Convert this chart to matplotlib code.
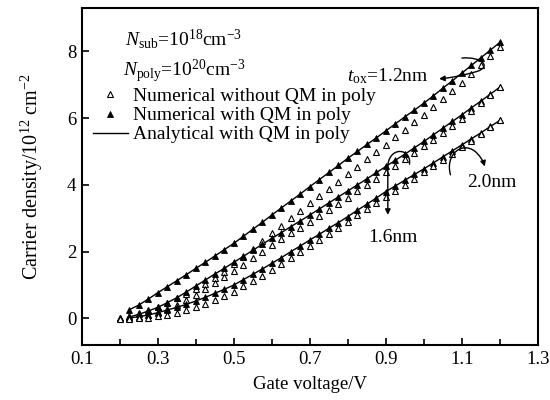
import matplotlib
matplotlib.use("Agg")
import matplotlib.pyplot as plt
from matplotlib.path import Path
from matplotlib.patches import FancyArrowPatch
from matplotlib.ticker import FixedLocator

plt.rcParams['font.family'] = ['Liberation Serif', 'DejaVu Serif']
plt.rcParams['mathtext.fontset'] = 'custom'
plt.rcParams['mathtext.rm'] = 'Liberation Serif'
plt.rcParams['mathtext.it'] = 'Liberation Serif:italic'

# Gate voltage grid (V)
voltage = [0.2, 0.225, 0.25, 0.275, 0.3, 0.325, 0.35, 0.375, 0.4, 0.425,
           0.45, 0.475, 0.5, 0.525, 0.55, 0.575, 0.6, 0.625, 0.65, 0.675,
           0.7, 0.725, 0.75, 0.775, 0.8, 0.825, 0.85, 0.875, 0.9, 0.925,
           0.95, 0.975, 1.0, 1.025, 1.05, 1.075, 1.1, 1.125, 1.15, 1.175, 1.2]
voltage_qm = voltage[1:]

# tox = 1.2 nm
t12_noqm = [0.02, 0.08, 0.15, 0.25, 0.35, 0.47, 0.6, 0.74, 0.88, 1.04,
            1.2, 1.4, 1.62, 1.85, 2.08, 2.32, 2.55, 2.78, 3.0, 3.23,
            3.45, 3.66, 3.88, 4.1, 4.32, 4.54, 4.76, 4.98, 5.2, 5.42,
            5.65, 5.87, 6.1, 6.33, 6.57, 6.81, 7.05, 7.31, 7.58, 7.85, 8.12]
t12_qm = [0.26, 0.4, 0.58, 0.77, 0.95, 1.13, 1.31, 1.5, 1.68, 1.87,
          2.06, 2.25, 2.46, 2.67, 2.88, 3.1, 3.31, 3.52, 3.73, 3.95,
          4.16, 4.37, 4.58, 4.8, 5.0, 5.21, 5.41, 5.62, 5.83, 6.04,
          6.24, 6.45, 6.67, 6.9, 7.12, 7.35, 7.58, 7.81, 8.04, 8.27]
t12_analytic = t12_qm

# tox = 1.6 nm
t16_noqm = [0.0, 0.02, 0.05, 0.1, 0.18, 0.28, 0.4, 0.54, 0.7, 0.87,
            1.05, 1.23, 1.42, 1.61, 1.8, 2.0, 2.2, 2.37, 2.55, 2.72,
            2.9, 3.08, 3.26, 3.44, 3.62, 3.81, 3.99, 4.18, 4.37, 4.56,
            4.76, 4.95, 5.15, 5.35, 5.56, 5.77, 5.98, 6.21, 6.45, 6.69, 6.93]
t16_qm = [0.04, 0.12, 0.22, 0.33, 0.47, 0.62, 0.79, 0.97, 1.15, 1.33,
          1.5, 1.68, 1.86, 2.04, 2.22, 2.4, 2.57, 2.75, 2.92, 3.1,
          3.28, 3.46, 3.64, 3.82, 4.0, 4.18, 4.37, 4.55, 4.74, 4.92,
          5.11, 5.3, 5.5, 5.7, 5.9, 6.1, 6.31, 6.51, 6.72, 6.93]
t16_analytic = t16_qm

# tox = 2.0 nm
t20_noqm = [-0.03, -0.02, 0.0, 0.02, 0.06, 0.11, 0.17, 0.24, 0.33, 0.43,
            0.54, 0.66, 0.8, 0.96, 1.12, 1.28, 1.45, 1.63, 1.81, 1.99,
            2.17, 2.35, 2.53, 2.72, 2.9, 3.09, 3.28, 3.46, 3.65, 3.83,
            4.01, 4.19, 4.37, 4.56, 4.74, 4.93, 5.12, 5.32, 5.52, 5.73, 5.93]
t20_qm = [0.01, 0.05, 0.1, 0.17, 0.25, 0.33, 0.42, 0.52, 0.63, 0.75,
          0.87, 1.0, 1.16, 1.32, 1.48, 1.65, 1.82, 2.0, 2.17, 2.35,
          2.52, 2.7, 2.87, 3.05, 3.24, 3.42, 3.61, 3.8, 3.97, 4.14,
          4.31, 4.48, 4.66, 4.84, 5.02, 5.2, 5.38, 5.56, 5.75, 5.93]
t20_analytic = t20_qm

x_major = [0.1, 0.3, 0.5, 0.7, 0.9, 1.1, 1.3]
x_minor = [0.2, 0.4, 0.6, 0.8, 1.0, 1.2]
y_ticks = [0, 2, 4, 6, 8]

legend_labels = ["Numerical without QM in poly",
                 "Numerical with QM in poly",
                 "Analytical with QM in poly"]

fig = plt.figure(figsize=(5.5, 4), dpi=100)
ax = fig.add_axes([0.149, 0.1375, 0.829, 0.8425])

ms = 4.2
h_open = None
h_fill = None
h_line = None
for noqm, qm, an in [(t12_noqm, t12_qm, t12_analytic),
                     (t16_noqm, t16_qm, t16_analytic),
                     (t20_noqm, t20_qm, t20_analytic)]:
    h_line, = ax.plot(voltage_qm, an, '-', color='black', lw=1.0, zorder=2)
    h_fill, = ax.plot(voltage_qm, qm, linestyle='none', marker='^', ms=ms,
                      mfc='black', mec='black', mew=0.6, zorder=3)
    h_open, = ax.plot(voltage, noqm, linestyle='none', marker='^', ms=ms + 0.6,
                      mfc='white', mec='black', mew=0.8, zorder=3)

ax.set_xlim(0.1, 1.3)
ax.set_ylim(-0.8, 9.3)
ax.xaxis.set_major_locator(FixedLocator(x_major))
ax.xaxis.set_minor_locator(FixedLocator(x_minor))
ax.yaxis.set_major_locator(FixedLocator(y_ticks))
ax.set_xticklabels([f"{v:.1f}" for v in x_major])
ax.tick_params(axis='both', which='major', direction='in', length=5, width=1.2,
               labelsize=13.5, top=False, right=False, pad=4)
ax.tick_params(axis='x', which='minor', direction='in', length=4, width=1.2)
for s in ax.spines.values():
    s.set_linewidth(1.5)

ax.set_xlabel("Gate voltage/V", fontsize=13.5, labelpad=6)
ax.set_ylabel(r"Carrier density/10$^{12}$ cm$^{-2}$", fontsize=14.5, labelpad=16)

leg = ax.legend([h_open, h_fill, h_line], legend_labels, loc='upper left',
                bbox_to_anchor=(0.024, 0.764), frameon=False, fontsize=14,
                labelspacing=0.08, handlelength=1.8, handletextpad=0.25,
                borderpad=0, borderaxespad=0, numpoints=1)

ax.text(0.213, 8.38, r"$N_{\rm sub}$=10$^{18}$cm$^{-3}$", fontsize=14,
        ha='left', va='center')
ax.text(0.208, 7.40, r"$N_{\rm poly}$=10$^{20}$cm$^{-3}$", fontsize=14,
        ha='left', va='center')

ax.text(0.797, 7.25, r"$t_{\rm ox}$=1.2nm", fontsize=14, ha='left', va='center')
ax.text(0.853, 2.43, "1.6nm", fontsize=14, ha='left', va='center')
ax.text(1.113, 4.07, "2.0nm", fontsize=14, ha='left', va='center')

C4 = Path.CURVE4
p1 = Path([(1.10, 7.80), (1.15, 7.85), (1.18, 7.55), (1.14, 7.40),
           (1.11, 7.30), (1.07, 7.20), (1.04, 7.18)],
          [Path.MOVETO, C4, C4, C4, C4, C4, C4])
p2 = Path([(0.962, 4.62), (0.968, 5.08), (0.912, 5.18), (0.905, 4.6),
           (0.905, 3.1)],
          [Path.MOVETO, C4, C4, C4, Path.LINETO])
p3 = Path([(1.07, 4.30), (1.055, 4.9), (1.10, 5.32), (1.135, 5.0),
           (1.145, 4.9), (1.155, 4.75), (1.16, 4.55)],
          [Path.MOVETO, C4, C4, C4, C4, C4, C4])
for p in (p1, p2, p3):
    ax.add_patch(FancyArrowPatch(path=p, arrowstyle='-|>', mutation_scale=8,
                                 lw=1.0, color='black', zorder=5))

fig.savefig("out.png", dpi=100)
